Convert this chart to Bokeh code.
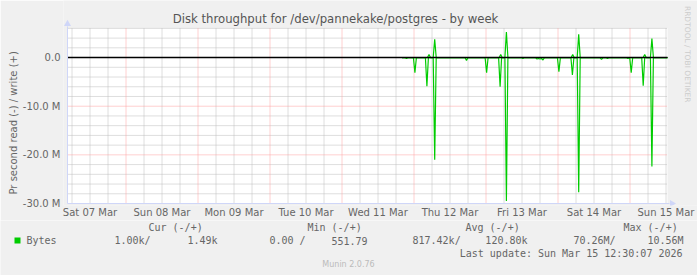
import math
from bokeh.plotting import figure
from bokeh.models import Range1d, FixedTicker, Title
from bokeh.layouts import column
from bokeh.core.properties import value
from bokeh.embed import file_html
from bokeh.resources import INLINE

# ---- data (x in hours since Fri 06 Mar 00:00, y in millions of bytes/s) ----
title_text = "Disk throughput for /dev/pannekake/postgres - by week"
y_label = "Pr second read (-) / write (+)"
day_labels = ["Sat 07 Mar", "Sun 08 Mar", "Mon 09 Mar", "Tue 10 Mar", "Wed 11 Mar",
              "Thu 12 Mar", "Fri 13 Mar", "Sat 14 Mar", "Sun 15 Mar"]
day_noons = [36, 60, 84, 108, 132, 156, 180, 204, 228]
y_ticks = [-30, -20, -10, 0]
y_tick_labels = ["-30.0 M", "-20.0 M", "-10.0 M", "0.0"]

read_h = [140.0, 141.0, 141.5, 142.0, 143.8, 144.3, 144.8, 147.8, 148.3, 148.8,
          150.4, 150.9, 151.4, 161.0, 161.5, 162.0, 167.7, 168.2, 168.7, 172.2,
          172.7, 173.2, 174.3, 174.8, 175.3, 179.8, 180.3, 180.8, 184.5, 185.0,
          185.5, 186.0, 186.5, 187.0, 187.5, 191.8, 192.3, 192.8, 196.3, 196.8,
          197.3, 198.4, 198.9, 199.4, 206.0, 206.5, 207.0, 208.0, 208.5, 209.0,
          214.8, 215.3, 215.8, 215.9, 216.4, 216.9, 219.9, 220.4, 220.9, 222.8,
          223.3, 223.8, 228.5]
read_v = [0, 0, -0.2, 0, 0, -3.1, 0, 0, -5.9, 0,
          0, -21.0, 0, 0, -0.6, 0, 0, -3.1, 0, 0,
          -6.0, 0, 0, -29.5, 0, 0, -0.2, 0, 0, -0.3,
          -0.2, -0.3, -0.2, -0.5, 0, 0, -2.9, 0, 0, -3.6,
          0, 0, -27.7, 0, 0, -0.4, 0, 0, -0.2, 0,
          0, -0.2, 0, 0, -3.1, 0, 0, -5.8, 0, 0,
          -22.4, 0, 0]

write_h = [140.0, 148.5, 149.0, 149.5, 150.4, 150.9, 151.4, 172.4, 172.9, 173.4,
           174.3, 174.8, 175.3, 196.4, 196.9, 197.4, 198.4, 198.9, 199.4, 220.4,
           220.9, 221.4, 222.8, 223.3, 223.8, 228.5]
write_v = [0, 0, 0.6, 0, 0, 3.75, 0, 0, 0.6, 0,
           0, 5.25, 0, 0, 0.6, 0, 0, 4.8, 0, 0,
           0.6, 0, 0, 3.9, 0, 0]

legend_name = "Bytes"
legend_heads = ["Cur (-/+)", "Min (-/+)", "Avg (-/+)", "Max (-/+)"]
legend_vals = [("1.00k/", "1.49k"), ("0.00 /", "551.79"),
               ("817.42k/", "120.80k"), ("70.26M/", "10.56M")]
last_update = "Last update: Sun Mar 15 12:30:07 2026"
credit = "Munin 2.0.76"
side_text = "RRDTOOL / TOBI OETIKER"

# ---- layout / style constants ----
W = 697
X0, X1 = 28.5, 228.5          # hours shown in the plot area
Y0, Y1 = -30.0, 6.0           # millions shown in the plot area
PL, PR, PT, PB = 67, 667, 28, 204   # plot area in page pixels
KX = (PR - PL) / (X1 - X0)    # px per hour
KY = (PB - PT) / (Y1 - Y0)    # px per million
FRAME_L, FRAME_B = 63, 206    # frame of main figure
H_MAIN = 220

GREEN = "#00CC00"
FONT_C = "#666666"
AXIS_C = "#CFD6F8"
BACK = "#F0F0F0"
GRID_C = "#BDBDBD"
MGRID_C = "#FFA0A0"


def hx(px):
    return X0 + (px - PL) / KX


def vy(py):
    return Y0 + (PB - py) / KY


p = figure(width=W, height=H_MAIN, output_backend="svg", toolbar_location=None,
           title=None, frame_align=False,
           x_range=Range1d(hx(FRAME_L), hx(W)),
           y_range=Range1d(vy(FRAME_B), vy(0)),
           min_border_left=FRAME_L, min_border_right=0, min_border_top=0,
           min_border_bottom=H_MAIN - FRAME_B,
           background_fill_color=BACK, border_fill_color=BACK,
           outline_line_color=None)
p.xgrid.visible = False
p.ygrid.visible = False

# plot canvas
p.quad(left=[X0], right=[X1], bottom=[Y0], top=[Y1], fill_color="white", line_color=None)

# grid lines
six_h = [h for h in range(30, 229, 6) if h % 24 != 0]
midn = [h for h in range(48, 229, 24)]
minor_y = [y for y in range(-28, 7, 2) if y % 10 != 0]
major_y = [-20, -10]
p.segment(x0=six_h, x1=six_h, y0=[Y0] * len(six_h), y1=[Y1] * len(six_h),
          line_color=GRID_C, line_dash="1 1", line_width=1)
p.segment(x0=[X0] * len(minor_y), x1=[X1] * len(minor_y), y0=minor_y, y1=minor_y,
          line_color=GRID_C, line_dash="1 1", line_width=1)
p.segment(x0=midn, x1=midn, y0=[Y0] * len(midn), y1=[Y1] * len(midn),
          line_color=MGRID_C, line_dash="1 1", line_width=1)
p.segment(x0=[X0] * len(major_y), x1=[X1] * len(major_y), y0=major_y, y1=major_y,
          line_color=MGRID_C, line_dash="1 1", line_width=1)

# data
p.line(read_h, read_v, line_color=GREEN, line_width=1.2)
p.line(write_h, write_v, line_color=GREEN, line_width=1.2)
p.segment(x0=[X0], x1=[X1], y0=[0], y1=[0], line_color="black", line_width=1.5)

# axis lines with arrows
p.segment(x0=[X0], x1=[X0], y0=[Y0], y1=[vy(PT - 2)], line_color=AXIS_C, line_width=1)
p.segment(x0=[X0], x1=[hx(PR + 2)], y0=[Y0], y1=[Y0], line_color=AXIS_C, line_width=1)
p.scatter(x=[X0], y=[vy(PT - 4.5)], marker="triangle", size=7, fill_color=AXIS_C,
          line_color=None)
p.scatter(x=[hx(PR + 4.5)], y=[Y0], marker="triangle", size=7, angle=-math.pi / 2,
          fill_color=AXIS_C, line_color=None)

# title and side credit
p.text(x=[hx(335)], y=[vy(19)], text=[title_text], text_font=value("DejaVu Sans"),
       text_font_size="11.7px", text_color="#555555", text_align="center",
       text_baseline="middle")
p.text(x=[hx(687)], y=[vy(54)], text=[side_text], text_font=value("DejaVu Sans"),
       text_font_size="7.5px", text_color="#CCCCCC", text_align="center",
       text_baseline="middle", angle=-math.pi / 2)

# axes (ticks/labels only)
xa = p.xaxis[0]
xa.ticker = FixedTicker(ticks=day_noons)
xa.major_label_overrides = {h: lab for h, lab in zip(day_noons, day_labels)}
xa.axis_line_color = None
xa.major_tick_line_color = None
xa.minor_tick_line_color = None
xa.major_tick_out = 0
xa.major_tick_in = 0
xa.major_label_standoff = 1
xa.major_label_text_font = "DejaVu Sans"
xa.major_label_text_font_size = "10px"
xa.major_label_text_color = FONT_C

ya = p.yaxis[0]
ya.ticker = FixedTicker(ticks=y_ticks)
ya.major_label_overrides = {t: lab for t, lab in zip(y_ticks, y_tick_labels)}
ya.axis_line_color = None
ya.major_tick_line_color = None
ya.minor_tick_line_color = None
ya.major_tick_out = 0
ya.major_tick_in = 0
ya.major_label_standoff = 3
ya.major_label_text_font = "DejaVu Sans"
ya.major_label_text_font_size = "10px"
ya.major_label_text_color = FONT_C

p.add_layout(Title(text=y_label, align="left", offset=FRAME_B - 195, standoff=2,
                   text_font="DejaVu Sans", text_font_size="10px",
                   text_color=FONT_C, text_font_style="normal"), "left")

# ---- legend strip (coordinates are page pixels) ----
q = figure(width=W, height=275 - H_MAIN, output_backend="svg", toolbar_location=None,
           title=None, frame_align=False,
           x_range=Range1d(0, W), y_range=Range1d(275, H_MAIN),
           x_axis_type=None, y_axis_type=None, min_border=0,
           min_border_left=0, min_border_right=0, min_border_top=0, min_border_bottom=0,
           background_fill_color=BACK, border_fill_color=BACK,
           outline_line_color=None)
q.xgrid.visible = False
q.ygrid.visible = False

MONO = value("DejaVu Sans Mono")


def put(txt, x, y, align="left", font=MONO, size="10px", color=FONT_C):
    q.text(x=[x], y=[y], text=[txt], text_font=font, text_font_size=size,
           text_color=color, text_align=align, text_baseline="middle")


for hxp, txt in zip([148, 307, 465, 623], legend_heads):
    put(txt, hxp, 227)
q.quad(left=[14], right=[20], top=[237], bottom=[243], fill_color=GREEN, line_color=None)
put(legend_name, 26, 240)
for (lx, rx), (a, b) in zip([(114, 217), (269, 367), (412, 527), (573, 683)], legend_vals):
    put(a, lx, 240)
    put(b, rx, 240, align="right")
put(last_update, 682, 253, align="right")
put(credit, 348, 264, font=value("DejaVu Sans"), size="8px", color="#BBBBBB",
    align="center")

layout = column(p, q, spacing=0)
open("out.html", "w").write(file_html(layout, INLINE))
